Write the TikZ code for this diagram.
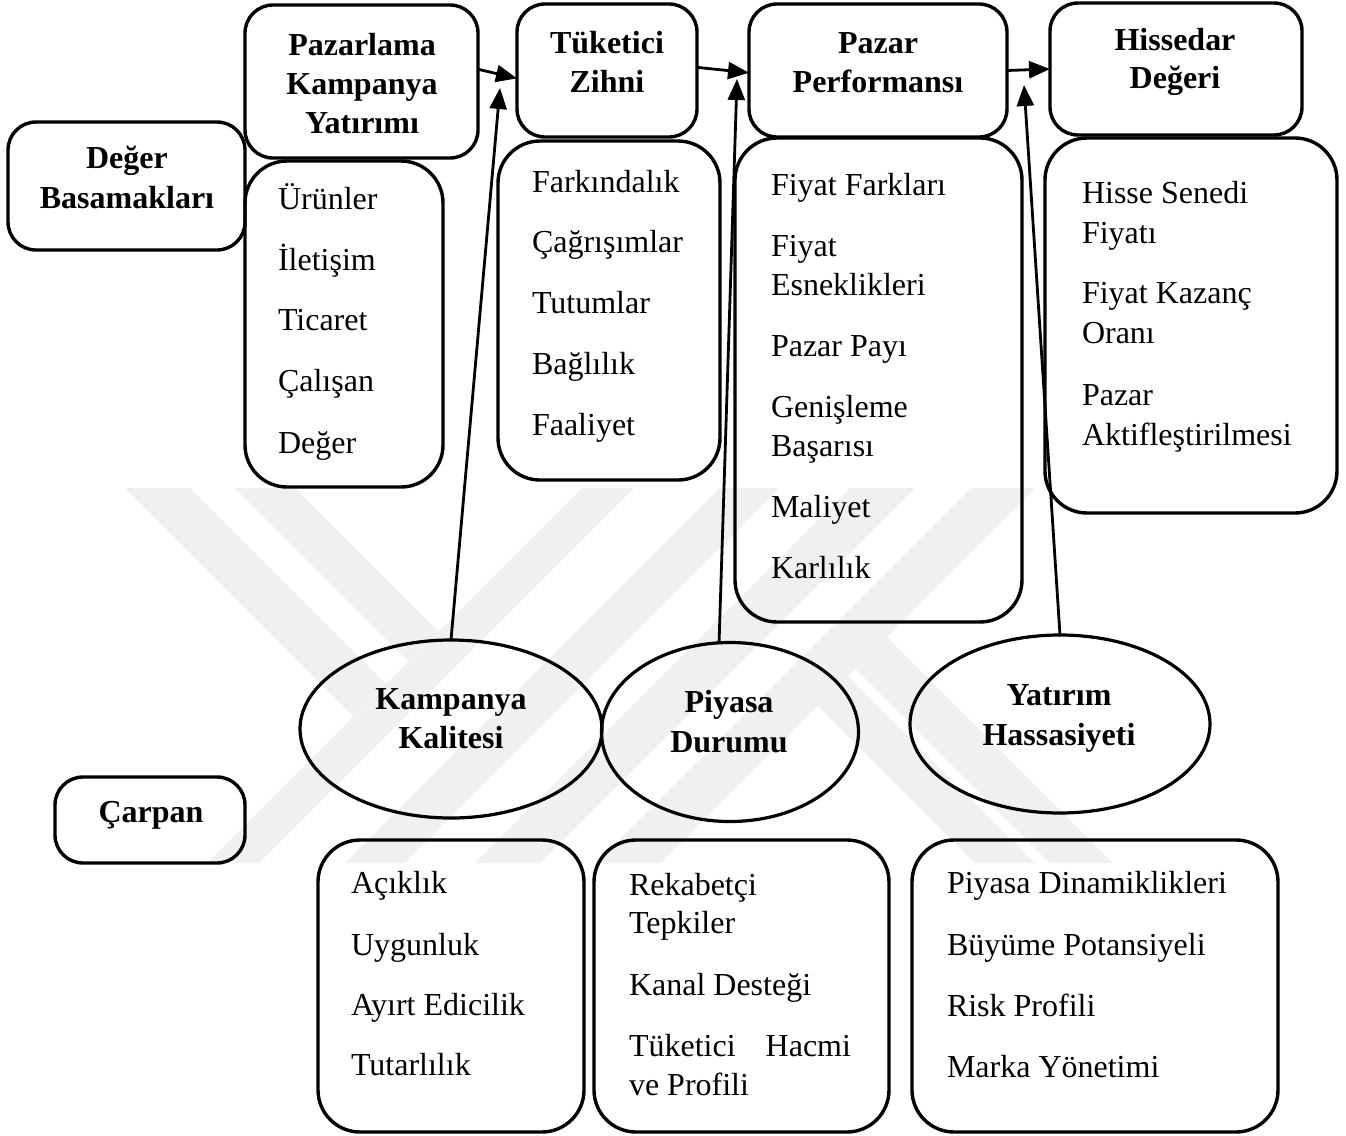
\documentclass[tikz,border=0pt]{standalone}
\usepackage{fontspec}
\setmainfont{Liberation Serif}
\usetikzlibrary{shapes.geometric,arrows.meta}
\begin{document}
\begin{tikzpicture}[x=0.5pt,y=-0.5pt,
  every node/.style={inner sep=0pt, outer sep=0pt},
  hbox/.style={draw, line width=1.7pt, rounded corners=14pt},
  ibox/.style={draw, line width=1.7pt, rounded corners=21pt},
  oval/.style={draw, ellipse, line width=1.6pt},
  ttl/.style={font=\fontsize{16}{19}\selectfont\bfseries, anchor=base},
  itm/.style={font=\fontsize{16}{19}\selectfont, anchor=base west},
  link/.style={line width=1.4pt, -{Triangle[length=10.5pt,width=8.5pt]}},
  wmark/.style={fill=black!6}]

% page
\fill[white] (0,0) rectangle (1346,1136);
\useasboundingbox (0,0) rectangle (1346,1136);

% faint background emblem
\fill[wmark] (582,488) -- (634,488) -- (259,863) -- (207,863) -- cycle;
\fill[wmark] (720,488) -- (780,488) -- (405,863) -- (345,863) -- cycle;
\fill[wmark] (850,488) -- (915,488) -- (540,863) -- (475,863) -- cycle;
\fill[wmark] (971,488) -- (1036,488) -- (661,863) -- (596,863) -- cycle;
\fill[wmark] (125,488) -- (190,488) -- (386,684) -- (353,716) -- cycle;
\fill[wmark] (235,488) -- (295,488) -- (438,631) -- (408,661) -- cycle;
\fill[wmark] (818,706) -- (848,676) -- (1035,863) -- (975,863) -- cycle;
\fill[wmark] (855,668) -- (887,637) -- (1113,863) -- (1050,863) -- cycle;

% heading boxes
\node[hbox, minimum width=118.5pt, minimum height=64pt]   (dv) at (126.5,186) {};
\node[hbox, minimum width=116.5pt, minimum height=76.5pt] (pk) at (361.5,81.5) {};
\node[hbox, minimum width=90pt,    minimum height=66.5pt] (tz) at (607,70.5) {};
\node[hbox, minimum width=129pt,   minimum height=66.5pt] (pp) at (878,70.5) {};
\node[hbox, minimum width=126pt,   minimum height=66pt]   (hd) at (1176,69) {};
\node[hbox, minimum width=95pt,    minimum height=43pt]   (cp) at (150,820) {};

% item boxes
\node[ibox, minimum width=99pt,    minimum height=163pt]   (pki) at (344,324) {};
\node[ibox, minimum width=111pt,   minimum height=169.5pt] (tzi) at (609,310.5) {};
\node[ibox, minimum width=143.5pt, minimum height=242pt]   (ppi) at (878.5,380) {};
\node[ibox, minimum width=146pt,   minimum height=187.5pt] (hdi) at (1191,325.5) {};
\node[ibox, minimum width=133pt,   minimum height=146pt]   (kki) at (451,986) {};
\node[ibox, minimum width=147.5pt, minimum height=146pt]   (pdi) at (741.5,986) {};
\node[ibox, minimum width=183pt,   minimum height=146pt]   (yhi) at (1095,986) {};

% multiplier ovals
\node[oval, minimum width=151pt,   minimum height=89pt]   (kk) at (451,729) {};
\node[oval, minimum width=128.5pt, minimum height=89.5pt] (pd) at (730,732) {};
\node[oval, minimum width=150pt,   minimum height=89pt]   (yh) at (1060,724) {};

% bold headings
\foreach \x/\y/\t [count=\i] in {
  127/168/Değer, 127/208/Basamakları,
  362/55/Pazarlama, 362/94/Kampanya, 362/133/Yatırımı,
  607/53/Tüketici, 607/92/Zihni,
  878/53/Pazar, 878/92/Performansı,
  1175/50/Hissedar, 1175/88/Değeri,
  451/709/Kampanya, 451/748/Kalitesi,
  729/712/Piyasa, 729/752/Durumu,
  1059/705/Yatırım, 1059/745/Hassasiyeti,
  151/822/Çarpan}
  \node[ttl] (h\i) at (\x,\y) {\t};

% item lists
\foreach \x/\y/\t [count=\i] in {
  278/209/Ürünler, 278/270/İletişim, 278/330/Ticaret, 278/391/Çalışan, 278/453/Değer,
  532/192/Farkındalık, 532/252/Çağrışımlar, 532/313/Tutumlar, 532/374/Bağlılık, 532/435/Faaliyet,
  771/195/Fiyat Farkları, 771/256/Fiyat, 771/295/Esneklikleri, 771/356/Pazar Payı,
  771/417/Genişleme, 771/456/Başarısı, 771/517/Maliyet, 771/578/Karlılık,
  1082/203/Hisse Senedi, 1082/243/Fiyatı, 1082/303/Fiyat Kazanç, 1082/343/Oranı,
  1082/405/Pazar, 1082/445/Aktifleştirilmesi,
  351/893/Açıklık, 351/955/Uygunluk, 351/1015/Ayırt Edicilik, 351/1075/Tutarlılık,
  629/895/Rekabetçi, 629/933/Tepkiler, 629/995/Kanal Desteği, 629/1056/Tüketici, 629/1095/ve Profili,
  947/893/Piyasa Dinamiklikleri, 947/955/Büyüme Potansiyeli, 947/1016/Risk Profili, 947/1077/Marka Yönetimi}
  \node[itm] (it\i) at (\x,\y) {\t};
\node[itm, anchor=base east] (hacmi) at (851,1056) {Hacmi};

% chain arrows
\draw[link] (pk.6) -- (tz.185);
\draw[link] (tz.2) -- (pp.181);
\draw[link] (pp.east) -- (hd.west);

% multiplier arrows
\coordinate (a1) at (500,88);
\coordinate (a2) at (737,79);
\coordinate (a3) at (1024,85);
\draw[link] (kk.north) -- (a1);
\draw[link] (pd.97) -- (a2);
\draw[link] (yh.north) -- (a3);
\end{tikzpicture}
\end{document}
